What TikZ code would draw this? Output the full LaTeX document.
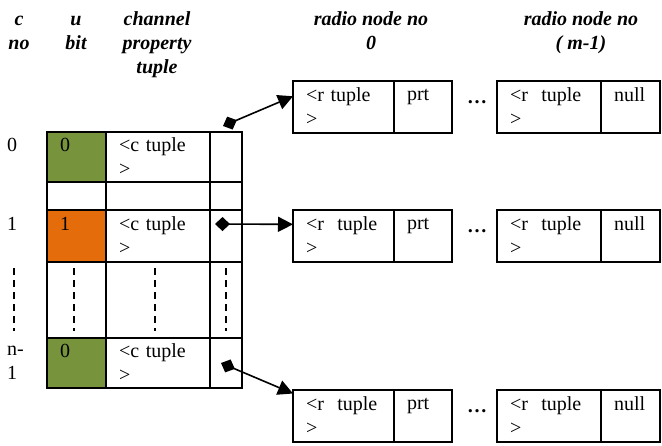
\documentclass[tikz,border=0pt]{standalone}
\usepackage{fontspec}
\setmainfont{Liberation Serif}
\usetikzlibrary{arrows.meta, positioning}
\definecolor{ugreen}{HTML}{77933C}
\definecolor{uorange}{HTML}{E46C0A}
\newcommand{\cellfont}{\fontsize{20}{24}\selectfont}

\begin{document}
\begin{tikzpicture}[x=1pt, y=-1pt,
    every node/.style={font=\cellfont},
    cell/.style 2 args={draw, line width=1.2pt, outer sep=0pt, inner xsep=13pt, inner ysep=0pt,
      align=left, text width=#1, minimum height=#2},
    rowlab/.style={outer sep=0pt, inner xsep=7pt, inner ysep=0pt, align=left,
      text width=33pt, minimum height=#1},
    head/.style={font=\cellfont\bfseries\itshape, align=center, anchor=north, inner sep=0pt},
    dotsnode/.style={font=\cellfont\bfseries, inner sep=0pt},
    dashline/.style={line width=1.5pt, dash pattern=on 7pt off 5pt, shorten <=6pt, shorten >=7pt},
    ptr/.style={line width=1.6pt, {Diamond[length=15pt,width=14pt]}-{Triangle[length=15pt,width=15pt]}}]
    \useasboundingbox (0,0) rectangle (662,445);

    % headings
    \node[head] (hc) at (19,8) {\strut c\\no};
    \node[head] (hu) at (76,8) {\strut u\\bit};
    \node[head] (hp) at (157,8) {\strut channel\\property\\tuple};
    \node[head] (hr0) at (371,8) {\strut radio node no\\0};
    \node[head] (hrm) at (581,8) {\strut radio node no\\( m-1)};

    % channel table
    \node[cell={33pt}{50pt}, fill=ugreen, anchor=north west] (c0) at (47,132) {0\\\mbox{}};
    \node[cell={78pt}{50pt}, right=0pt of c0] (t0) {<c tuple\\>};
    \node[cell={6pt}{50pt}, right=0pt of t0] (p0) {};
    \node[rowlab=50pt, left=0pt of c0] (l0) {0\\\mbox{}};

    \node[cell={33pt}{28pt}, below=0pt of c0] (cg) {};
    \node[cell={78pt}{28pt}, below=0pt of t0] (tg) {};
    \node[cell={6pt}{28pt}, below=0pt of p0] (pg) {};

    \node[cell={33pt}{52pt}, fill=uorange, below=0pt of cg] (c1) {1\\\mbox{}};
    \node[cell={78pt}{52pt}, below=0pt of tg] (t1) {<c tuple\\>};
    \node[cell={6pt}{52pt}, below=0pt of pg] (p1) {};
    \node[rowlab=52pt, left=0pt of c1] (l1) {1\\\mbox{}};

    \node[cell={33pt}{76pt}, below=0pt of c1] (cd) {};
    \node[cell={78pt}{76pt}, below=0pt of t1] (td) {};
    \node[cell={6pt}{76pt}, below=0pt of p1] (pd) {};
    \node[rowlab=76pt, left=0pt of cd] (ld) {};

    \node[cell={33pt}{50pt}, fill=ugreen, below=0pt of cd] (cn) {0\\\mbox{}};
    \node[cell={78pt}{50pt}, below=0pt of td] (tn) {<c tuple\\>};
    \node[cell={6pt}{50pt}, below=0pt of pd] (pn) {};
    \node[rowlab=50pt, left=0pt of cn] (ln) {n-\\1};

    \draw[dashline] ([xshift=-9.5pt]ld.north) -- ([xshift=-9.5pt]ld.south);
    \draw[dashline] ([xshift=-2.5pt]cd.north) -- ([xshift=-2.5pt]cd.south);
    \draw[dashline] ([xshift=-3pt]td.north) -- ([xshift=-3pt]td.south);
    \draw[dashline] (pd.north) -- (pd.south);

    % radio node lists
    \node[cell={75pt}{52pt}, anchor=north west] (rad0) at (293,81) {<r tuple\\>};
    \node[cell={32pt}{52pt}, right=0pt of rad0] (prt0) {prt\\\mbox{}};
    \node[cell={78pt}{52pt}, right=45pt of prt0] (radm0) {<r\ \ tuple\\>};
    \node[cell={33pt}{52pt}, right=0pt of radm0] (null0) {null\\\mbox{}};
    \node[dotsnode] (dots0) at ([xshift=25pt, yshift=5pt]prt0.east) {…};

    \node[cell={75pt}{52pt}, anchor=north west] (rad1) at (293,210) {<r\ \ tuple\\>};
    \node[cell={32pt}{52pt}, right=0pt of rad1] (prt1) {prt\\\mbox{}};
    \node[cell={78pt}{52pt}, right=45pt of prt1] (radm1) {<r\ \ tuple\\>};
    \node[cell={33pt}{52pt}, right=0pt of radm1] (null1) {null\\\mbox{}};
    \node[dotsnode] (dots1) at ([xshift=25pt, yshift=5pt]prt1.east) {…};

    \node[cell={75pt}{52pt}, anchor=north west] (rad2) at (293,390) {<r\ \ tuple\\>};
    \node[cell={32pt}{52pt}, right=0pt of rad2] (prt2) {prt\\\mbox{}};
    \node[cell={78pt}{52pt}, right=45pt of prt2] (radm2) {<r\ \ tuple\\>};
    \node[cell={33pt}{52pt}, right=0pt of radm2] (null2) {null\\\mbox{}};
    \node[dotsnode] (dots2) at ([xshift=25pt, yshift=5pt]prt2.east) {…};

    % pointers
    \coordinate (s0) at (223,126);
    \coordinate (s1) at (215,224);
    \coordinate (s2) at (221,363);
    \draw[ptr] (s0) -- (rad0.168);
    \draw[ptr] (s1) -- (rad1.167);
    \draw[ptr] (s2) -- (rad2.156);
  \end{tikzpicture}
\end{document}
